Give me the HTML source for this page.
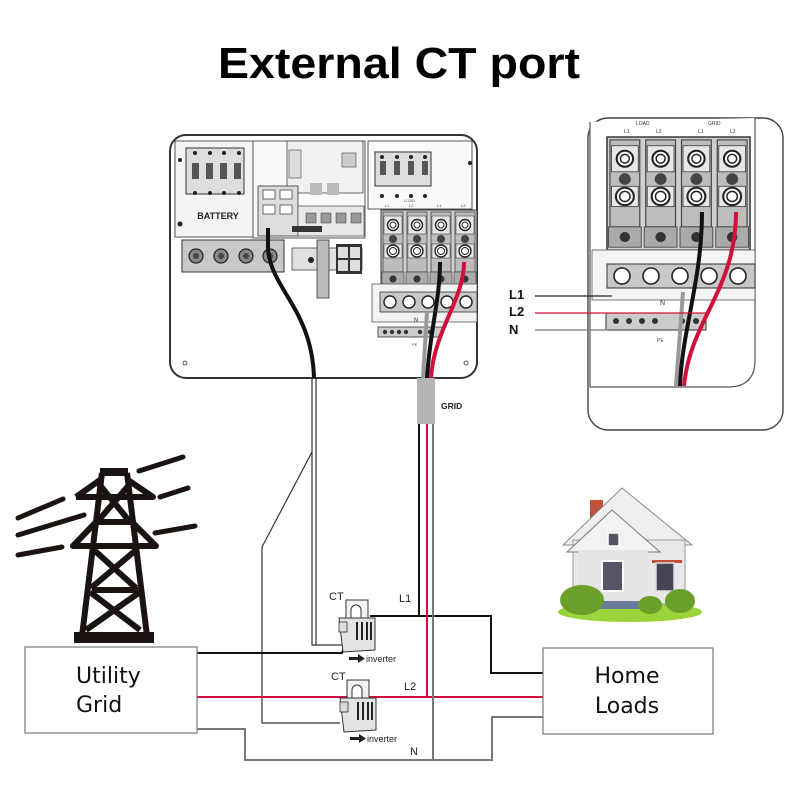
<!DOCTYPE html>
<html><head><meta charset="utf-8"><style>
html,body{margin:0;padding:0;background:#fff;width:800px;height:800px;overflow:hidden}
svg{display:block}
</style></head><body>
<svg width="800" height="800" viewBox="0 0 800 800" xmlns="http://www.w3.org/2000/svg" font-family="Liberation Sans, sans-serif">
<defs>
 <g id="tb">
  <rect x="0" y="0" width="96" height="78" fill="#cfcfcf" stroke="#333" stroke-width="1"/>
  <g id="col">
   <rect x="2" y="2" width="20" height="60" fill="#bdbdbd" stroke="#444" stroke-width="0.8"/>
   <rect x="3" y="6" width="18" height="18" fill="#e6e6e6" stroke="#444" stroke-width="0.6"/>
   <circle cx="12" cy="15" r="5.5" fill="#fff" stroke="#222" stroke-width="1.4"/>
   <circle cx="12" cy="15" r="3" fill="none" stroke="#222" stroke-width="1"/>
   <circle cx="12" cy="29" r="4" fill="#444"/>
   <rect x="3" y="34" width="18" height="14" fill="#e6e6e6" stroke="#444" stroke-width="0.6"/>
   <circle cx="12" cy="41" r="6" fill="#fff" stroke="#222" stroke-width="1.4"/>
   <circle cx="12" cy="41" r="3.5" fill="none" stroke="#222" stroke-width="1"/>
   <rect x="1" y="62" width="22" height="14" fill="#aaa" stroke="#444" stroke-width="0.6"/>
   <circle cx="12" cy="69" r="3.5" fill="#333"/>
  </g>
  <use href="#col" x="24"/>
  <use href="#col" x="48"/>
  <use href="#col" x="72"/>
 </g>
 <g id="ct">
  <rect x="9" y="0" width="22" height="20" fill="#f2f2f2" stroke="#333" stroke-width="1"/>
  <path d="M14 20 V10 A5 5 0 0 1 24 10 V20" fill="#fff" stroke="#333" stroke-width="1"/>
  <path d="M2 18 L38 18 L38 50 L6 52 Z" fill="#e4e4e4" stroke="#333" stroke-width="1"/>
  <path d="M20 22 V40 M25 22 V40 M30 22 V40 M34 22 V40" stroke="#222" stroke-width="2"/>
  <rect x="2" y="22" width="8" height="10" fill="#ddd" stroke="#333" stroke-width="0.8"/>
 </g>
</defs>

<text x="399" y="78" text-anchor="middle" font-size="44" font-weight="bold" textLength="362" lengthAdjust="spacingAndGlyphs" fill="#000">External CT port</text>

<!-- ===== Inverter main ===== -->
<rect x="170" y="135" width="307" height="243" rx="16" fill="#fff" stroke="#333" stroke-width="2"/>
<rect x="175" y="141" width="78" height="96" fill="#f4f4f4" stroke="#555" stroke-width="1"/>
<rect x="186" y="148" width="58" height="46" fill="#ddd" stroke="#333" stroke-width="1"/>
<g fill="#555"><rect x="192" y="163" width="7" height="16"/><rect x="206" y="163" width="7" height="16"/><rect x="220" y="163" width="7" height="16"/><rect x="234" y="163" width="7" height="16"/></g>
<g fill="#222"><circle cx="195" cy="153" r="2"/><circle cx="210" cy="153" r="2"/><circle cx="224" cy="153" r="2"/><circle cx="239" cy="153" r="2"/><circle cx="195" cy="193" r="2"/><circle cx="210" cy="193" r="2"/><circle cx="224" cy="193" r="2"/><circle cx="239" cy="193" r="2"/><circle cx="180" cy="160" r="2"/><circle cx="180" cy="224" r="2.5"/></g>
<text x="218" y="219" text-anchor="middle" font-size="9" font-weight="bold" fill="#222">BATTERY</text>
<rect x="253" y="141" width="112" height="97" fill="#fafafa" stroke="#555" stroke-width="1"/>
<rect x="287" y="141" width="76" height="52" fill="#f0f0f0" stroke="#444" stroke-width="0.8"/>
<rect x="289" y="150" width="12" height="28" fill="#ddd" stroke="#444" stroke-width="0.6"/>
<rect x="310" y="183" width="12" height="12" fill="#bbb"/><rect x="327" y="183" width="12" height="12" fill="#bbb"/>
<rect x="342" y="153" width="14" height="14" fill="#ccc" stroke="#444" stroke-width="0.6"/>
<rect x="258" y="186" width="40" height="50" fill="#ddd" stroke="#333" stroke-width="0.8"/>
<g fill="#fff" stroke="#333" stroke-width="0.7"><rect x="263" y="190" width="12" height="9"/><rect x="280" y="190" width="12" height="9"/><rect x="263" y="205" width="12" height="9"/><rect x="280" y="205" width="12" height="9"/></g>
<rect x="298" y="206" width="66" height="30" fill="#e8e8e8" stroke="#444" stroke-width="0.7"/>
<g fill="#999" stroke="#333" stroke-width="0.5"><rect x="306" y="213" width="10" height="10"/><rect x="321" y="213" width="10" height="10"/><rect x="336" y="213" width="10" height="10"/><rect x="351" y="213" width="10" height="10"/></g>
<rect x="292" y="226" width="30" height="6" fill="#333"/>
<rect x="368" y="141" width="104" height="68" fill="#fafafa" stroke="#555" stroke-width="1"/>
<rect x="375" y="152" width="56" height="34" fill="#ddd" stroke="#333" stroke-width="1"/>
<g fill="#555"><rect x="380" y="161" width="6" height="14"/><rect x="394" y="161" width="6" height="14"/><rect x="408" y="161" width="6" height="14"/><rect x="422" y="161" width="6" height="14"/></g>
<g fill="#222"><circle cx="382" cy="157" r="2"/><circle cx="397" cy="157" r="2"/><circle cx="411" cy="157" r="2"/><circle cx="425" cy="157" r="2"/><circle cx="382" cy="196" r="2"/><circle cx="397" cy="196" r="2"/><circle cx="411" cy="196" r="2"/><circle cx="425" cy="196" r="2"/><circle cx="470" cy="163" r="2"/></g>
<text x="404" y="202" font-size="4" fill="#555">LOAD</text>
<rect x="182" y="240" width="102" height="32" fill="#c8c8c8" stroke="#333" stroke-width="1"/>
<g fill="#888" stroke="#222" stroke-width="1.2"><circle cx="196" cy="256" r="7"/><circle cx="221" cy="256" r="7"/><circle cx="246" cy="256" r="7"/><circle cx="270" cy="256" r="7"/></g>
<g fill="#444"><circle cx="196" cy="256" r="3"/><circle cx="221" cy="256" r="3"/><circle cx="246" cy="256" r="3"/><circle cx="270" cy="256" r="3"/></g>
<rect x="292" y="248" width="70" height="22" fill="#e0e0e0" stroke="#444" stroke-width="0.8"/>
<rect x="317" y="240" width="12" height="58" fill="#bbb" stroke="#333" stroke-width="0.8"/>
<circle cx="311" cy="260" r="3" fill="#222"/>
<rect x="336" y="244" width="26" height="30" fill="#333"/>
<g fill="#ddd"><rect x="338" y="247" width="10" height="11"/><rect x="350" y="247" width="10" height="11"/><rect x="338" y="260" width="10" height="11"/><rect x="350" y="260" width="10" height="11"/></g>
<use href="#tb" x="381" y="210"/>
<text x="385" y="207" font-size="4" fill="#444">L1</text><text x="409" y="207" font-size="4" fill="#444">L2</text><text x="437" y="207" font-size="4" fill="#444">L1</text><text x="461" y="207" font-size="4" fill="#444">L2</text>
<rect x="372" y="284" width="105" height="38" fill="#f2f2f2" stroke="#555" stroke-width="0.8"/>
<rect x="380" y="292" width="97" height="20" fill="#c8c8c8" stroke="#333" stroke-width="0.8"/>
<g fill="#fff" stroke="#222" stroke-width="1.4"><circle cx="390" cy="302" r="6"/><circle cx="409" cy="302" r="6"/><circle cx="428" cy="302" r="6"/><circle cx="447" cy="302" r="6"/><circle cx="466" cy="302" r="6"/></g>
<text x="414" y="322" font-size="6" fill="#333">N</text>
<rect x="378" y="327" width="64" height="10" fill="#ccc" stroke="#333" stroke-width="0.8"/>
<g fill="#333"><circle cx="385" cy="332" r="2.2"/><circle cx="392" cy="332" r="2.2"/><circle cx="399" cy="332" r="2.2"/><circle cx="406" cy="332" r="2.2"/><circle cx="420" cy="332" r="2.2"/><circle cx="430" cy="332" r="2.2"/></g>
<text x="412" y="346" font-size="4" fill="#444">PE</text>
<g fill="none" stroke="#333" stroke-width="0.8"><circle cx="185" cy="363" r="2"/><circle cx="466" cy="363" r="2"/></g>
<path d="M427 312 L423 378" stroke="#999" stroke-width="4" fill="none"/>
<path d="M440 262 C440 300 430 330 427 378" stroke="#111" stroke-width="4" fill="none"/>
<path d="M464 262 C464 300 434 330 431 378" stroke="#d0103a" stroke-width="4" fill="none"/>
<path d="M268 228 L268 250 C272 290 312 310 314 378" stroke="#111" stroke-width="4" fill="none"/>

<rect x="417" y="378" width="18" height="46" fill="#b5b5b5"/>
<text x="441" y="409" font-size="8.5" font-weight="bold" fill="#222">GRID</text>

<!-- ===== inset ===== -->
<rect x="588" y="118" width="195" height="312" rx="20" fill="#fff" stroke="#444" stroke-width="1.4"/>
<path d="M590 122 L590 387 L728 387 Q755 387 755 360 L755 118" fill="#fff" stroke="#555" stroke-width="1.2"/>
<use href="#tb" transform="translate(607,137) scale(1.49,1.45)"/>
<text x="636" y="125" font-size="5" fill="#333">LOAD</text><text x="708" y="125" font-size="5" fill="#333">GRID</text>
<text x="624" y="133" font-size="5" fill="#333">L1</text><text x="656" y="133" font-size="5" fill="#333">L2</text><text x="698" y="133" font-size="5" fill="#333">L1</text><text x="730" y="133" font-size="5" fill="#333">L2</text>
<rect x="592" y="250" width="163" height="50" fill="#f4f4f4" stroke="#555" stroke-width="0.8"/>
<rect x="607" y="264" width="148" height="24" fill="#c8c8c8" stroke="#333" stroke-width="1"/>
<g fill="#fff" stroke="#222" stroke-width="1.6"><circle cx="622" cy="276" r="8"/><circle cx="651" cy="276" r="8"/><circle cx="680" cy="276" r="8"/><circle cx="709" cy="276" r="8"/><circle cx="738" cy="276" r="8"/></g>
<text x="660" y="305" font-size="7" fill="#333">N</text>
<rect x="606" y="313" width="100" height="17" fill="#ccc" stroke="#333" stroke-width="1"/>
<g fill="#333"><circle cx="616" cy="321" r="3"/><circle cx="629" cy="321" r="3"/><circle cx="642" cy="321" r="3"/><circle cx="655" cy="321" r="3"/><circle cx="682" cy="321" r="3"/><circle cx="696" cy="321" r="3"/></g>
<text x="657" y="342" font-size="5" fill="#444">PE</text>
<path d="M683 292 L676 386" stroke="#999" stroke-width="4" fill="none"/>
<path d="M702 212 C702 280 682 330 680 386" stroke="#111" stroke-width="4" fill="none"/>
<path d="M736 212 C736 290 690 320 684 386" stroke="#d0103a" stroke-width="4" fill="none"/>
<path d="M535 296 H612" stroke="#222" stroke-width="1.3"/>
<path d="M535 313 H707" stroke="#d0103a" stroke-width="1.3"/>
<path d="M535 330 H608" stroke="#777" stroke-width="1.3"/>
<g font-size="13" font-weight="bold" fill="#111"><text x="509" y="299">L1</text><text x="509" y="316">L2</text><text x="509" y="334">N</text></g>

<!-- ===== tower ===== -->
<g stroke="#1a1311" stroke-width="5" stroke-linecap="round" fill="none">
 <path d="M18 518 L63 499 M18 535 L84 515 M18 555 L62 547 M139 471 L183 457 M160 497 L188 488 M155 533 L195 526"/>
</g>
<g stroke="#1a1311" stroke-width="6" fill="none" stroke-linejoin="round">
 <path d="M102 473 L82 636 M127 473 L147 636"/>
 <path d="M76 497 L153 497 L128 480 M76 497 L100 480"/>
 <path d="M73 546 L156 546 L132 522 L96 522 Z"/>
 <path d="M99 484 L130 522 M130 484 L97 522"/>
 <path d="M94 550 L136 588 M136 550 L91 588"/>
 <path d="M90 592 L140 630 M140 592 L86 630 M92 590 L138 590"/>
</g>
<rect x="100" y="468" width="28" height="8" fill="#1a1311"/>
<rect x="74" y="632" width="80" height="11" fill="#1a1311"/>

<!-- ===== wiring ===== -->
<g fill="none" stroke-width="2">
 <path d="M312 378 V645 H342" stroke="#333" stroke-width="1.2"/>
 <path d="M316 378 V645" stroke="#333" stroke-width="1.2"/>
 <path d="M312 452 L262 547 V723 H340" stroke="#333" stroke-width="1.2"/>
 <path d="M197 653 H342 L346 640" stroke="#111"/>
 <path d="M419 424 V616" stroke="#111"/>
 <path d="M370 616 H491 V673 H543" stroke="#111"/>
 <path d="M427 424 V697" stroke="#d0103a"/>
 <path d="M197 697 H543" stroke="#d0103a"/>
 <path d="M433 424 V760" stroke="#777"/>
 <path d="M197 729 H245 V760 H492 V717 H543" stroke="#777"/>
</g>

<use href="#ct" x="337" y="600"/>
<use href="#ct" x="338" y="680"/>
<g font-size="11" fill="#222">
 <text x="329" y="600">CT</text><text x="331" y="680">CT</text>
 <text x="399" y="602">L1</text><text x="404" y="690">L2</text><text x="410" y="755">N</text>
</g>
<g fill="#222"><rect x="349" y="657" width="10" height="3"/><path d="M358 654 L365 658.5 L358 663 Z"/><rect x="350" y="737" width="10" height="3"/><path d="M359 734 L366 738.5 L359 743 Z"/></g>
<g font-size="9" fill="#222"><text x="366" y="662">inverter</text><text x="367" y="742">inverter</text></g>

<rect x="25" y="647" width="172" height="86" fill="#fff" stroke="#777" stroke-width="1.2"/>
<g font-size="22" fill="#111" font-family="DejaVu Sans, Liberation Sans, sans-serif"><text x="76" y="683">Utility</text><text x="76" y="712">Grid</text></g>
<rect x="543" y="648" width="170" height="86" fill="#fff" stroke="#777" stroke-width="1.2"/>
<g font-size="22" fill="#111" font-family="DejaVu Sans, Liberation Sans, sans-serif" text-anchor="middle"><text x="627" y="683">Home</text><text x="627" y="713">Loads</text></g>

<!-- house -->
<ellipse cx="630" cy="612" rx="72" ry="10" fill="#9bd43a"/>
<rect x="590" y="500" width="13" height="22" fill="#c0503a"/>
<path d="M563 545 L622 488 L692 545 Z" fill="#eee" stroke="#888"/>
<rect x="573" y="540" width="112" height="64" fill="#e8e8e8" stroke="#999"/>
<path d="M567 552 L612 510 L660 552 Z" fill="#f2f2f2" stroke="#777"/>
<rect x="578" y="550" width="70" height="52" fill="#e4e4e4"/>
<rect x="602" y="561" width="21" height="30" fill="#556" stroke="#fff" stroke-width="2"/>
<rect x="608" y="533" width="11" height="13" fill="#556" stroke="#fff" stroke-width="1.5"/>
<rect x="652" y="560" width="30" height="3" fill="#c0503a"/>
<rect x="656" y="563" width="18" height="28" fill="#445" stroke="#ddd" stroke-width="1.5"/>
<rect x="600" y="601" width="60" height="8" fill="#6a7a9a"/>
<ellipse cx="582" cy="600" rx="22" ry="15" fill="#6aa02a"/>
<ellipse cx="650" cy="605" rx="12" ry="9" fill="#6aa02a"/>
<ellipse cx="680" cy="601" rx="15" ry="12" fill="#6aa02a"/>
</svg>
</body></html>
